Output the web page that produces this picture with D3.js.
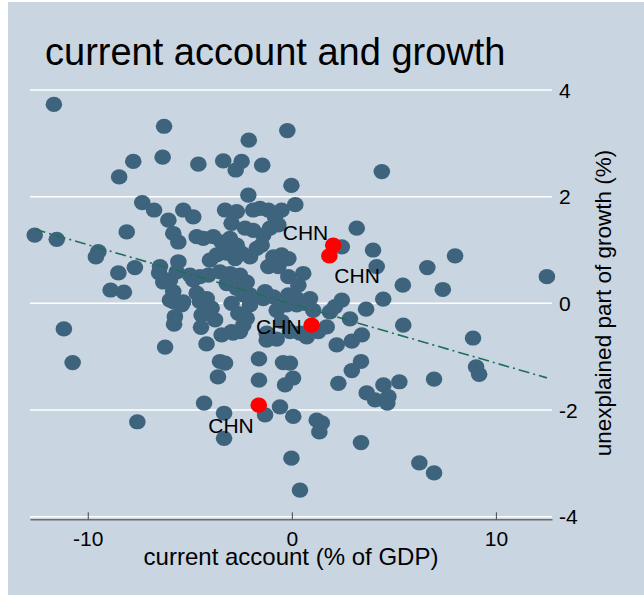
<!DOCTYPE html>
<html>
<head>
<meta charset="utf-8">
<script src="https://cdn.jsdelivr.net/npm/d3@7"></script>
<style>
  body { margin: 0; background: #fff; }
  text { font-family: "Liberation Sans", Arial, sans-serif; fill: #000; }
</style>
</head>
<body>
<div id="container"></div>
<script>
const w = 644;
const h = 595;

// current account (% of GDP) and unexplained growth, all countries
const ca = [-11.66, -6.26, -7.77, -8.46, -6.33, -4.58, -7.33, -6.75, -12.6, -11.52,
  -8.09, -9.48, -9.6, -8.5, -7.69, -8.88, -8.23, -6.46, -6.5, -6.05,
  -5.81, -5.32, -5.56, -4.83, -4.66, -5.56, -5.97, -5.81, -4.83, -4.66,
  -0.22, -2.11, -3.36, -2.46, -2.75, -1.45, -0.02, -2.13, 0.17, 3.18,
  2.45, 3.98, 0.56, -0.17, 4.41, 8.0, 6.64, 12.5, 4.16, 5.44,
  7.4, 4.48, 3.64, 2.45, 2.12, 1.87, 2.85, 5.46, 8.88, 3.43,
  2.94, 2.2, 0.24, 0.65, 0.4, 0.73, 1.3, 1.71, 3.39, 2.94,
  2.28, 3.67, 4.08, 4.49, 4.73, 4.68, 5.27, 6.97, 9.03, 9.18,
  0.07, 1.22, 1.47, 1.35, 3.39, -0.02, 0.4, 6.25, 6.97, -11.17,
  -10.74, -6.21, -5.77, -4.45, -4.18, -3.52, -3.62, -3.27, -3.44, -2.88,
  -1.61, -1.61, -1.23, -0.74, -0.43, -0.09, -0.33, 0.06, -4.3, -3.32,
  -3.32, -7.57, -1.31, -0.58, -5.81, -5.4, -5.73, -4.5, -4.42, -3.93,
  -3.76, -2.95, -2.62, -2.95, -2.38, -2.05, -2.21, -2.54, -1.4, -0.74,
  -0.25, -0.5, -1.23, -0.09, 1.05, -4.34, -3.27, -2.7, -2.95, -1.89,
  -1.56, -1.15, -0.5, -0.82, -2.29, -1.89, -1.4, -1.07, -0.66, -3.85,
  -3.44, -3.03, -2.7, -3.68, -4.01, -3.19, -2.78, -2.46, -2.05, -1.72,
  -1.48, -0.9, -0.5, -0.17, -0.66, -1.15, 0.32, -6.3, -5.64, -4.99,
  -4.5, -4.09, -3.52, -3.03, -2.54, -2.21, -3.19, -2.7, -2.38, -2.05,
  -1.31, -0.9, -0.17, 0.24, -4.17, -5.32, -5.97, 0.89];
const growth = [3.73, 3.32, 2.66, 2.37, 2.74, 2.61, 1.89, 1.75, 1.28, 1.2,
  1.34, 0.97, 0.87, 0.57, 0.67, 0.25, 0.21, 0.69, 0.57, 1.56,
  1.31, 1.75, 1.15, 1.62, 1.25, 0.78, 0.44, 0.22, 0.44, 0.19,
  3.24, 3.06, 2.67, 2.66, 2.5, 2.59, 2.21, 2.03, 1.85, 1.41,
  1.06, 1.0, 0.56, 0.5, 2.47, 0.89, 0.67, 0.5, 0.69, 0.34,
  0.26, 0.08, -0.11, 0.06, -0.06, -0.16, -0.29, -0.41, -0.65, -0.59,
  -0.71, -0.78, -0.03, 0.0, -0.56, -0.63, -0.53, -0.44, -1.09, -1.26,
  -1.5, -1.68, -1.81, -1.53, -1.75, -1.87, -1.47, -1.42, -1.19, -1.33,
  -2.12, -2.19, -2.24, -2.41, -2.61, -2.9, -3.5, -2.99, -3.18, -0.48,
  -1.11, -0.82, -0.39, -0.45, -0.76, -1.09, -1.38, -1.12, -0.59, -0.56,
  -1.04, -1.44, -0.69, -0.67, -1.11, -1.12, -1.53, -1.4, -1.87, -2.06,
  -2.53, -2.22, -2.09, -1.94, 0.03, -0.03, -0.25, 0.03, -0.22, -0.09,
  -0.31, 0.0, -0.19, -0.53, -0.41, -0.03, -0.28, -0.53, 0.09, -0.13,
  -0.03, -0.34, -0.56, -0.53, -0.13, 1.22, 1.75, 1.72, 1.5, 1.75,
  1.78, 1.75, 1.75, 1.62, 1.41, 1.37, 1.28, 1.41, 1.47, 1.25,
  1.15, 1.22, 1.09, 0.91, 0.81, 0.94, 0.84, 0.94, 0.87, 1.03,
  1.09, 0.87, 0.91, 0.84, 0.69, 0.69, 0.34, 0.4, 0.59, 0.53,
  0.5, 0.53, 0.59, 0.56, 0.53, 0.4, 0.37, 0.28, 0.16, 0.16,
  0.22, 0.12, 0.16, 0.09, 0.09, 0.03, 0.06, 0.09];

// China observations, labelled
const chnCa = [2.03, 1.84, 0.97, -1.62];
const chnGrowth = [1.09, 0.89, -0.41, -1.91];
const chnLabel = ['CHN', 'CHN', 'CHN', 'CHN'];
const chnClock = [11, 5, 9, 7];

// linear fit
const fitIntercept = -0.01;
const fitSlope = -0.111;

const xTicks = [-10, 0, 10];
const yTicks = [-4, -2, 0, 2, 4];

const bg = '#c9d5e0';
const dotColor = '#3e647d';

const svg = d3.select('#container')
  .append('svg')
  .attr('width', w)
  .attr('height', h);

svg.append('rect')
  .attr('x', 8).attr('y', 2)
  .attr('width', w - 8).attr('height', h - 2)
  .attr('fill', bg);

const x = d3.scaleLinear().domain([-12.83, 12.75]).range([30, 552]);
const y = d3.scaleLinear().domain([-4, 4]).range([516.7, 90]);

// grid
svg.append('g')
  .selectAll('line')
  .data(yTicks)
  .join('line')
    .attr('x1', 30).attr('x2', 552)
    .attr('y1', d => y(d)).attr('y2', d => y(d))
    .attr('stroke', 'white')
    .attr('stroke-width', 1.5);

// x axis
const xAxis = d3.axisBottom(x)
  .tickValues(xTicks)
  .tickFormat(d => String(d))
  .tickSizeInner(-7)
  .tickSizeOuter(0)
  .tickPadding(12);
const gx = svg.append('g')
  .attr('transform', 'translate(0,519.3)')
  .call(xAxis);
gx.select('.domain').attr('stroke', '#6e6e6e').attr('stroke-width', 1.6);
gx.selectAll('.tick line').attr('stroke', '#444').attr('stroke-width', 1);
gx.selectAll('.tick text')
  .attr('font-size', 21)
  .attr('font-family', '"Liberation Sans", Arial, sans-serif')
  .attr('fill', '#000');

// y axis labels on the right
svg.append('g')
  .selectAll('text')
  .data(yTicks)
  .join('text')
    .attr('x', 559)
    .attr('y', d => y(d))
    .attr('dy', '0.36em')
    .attr('font-size', 21)
    .text(d => String(d));

// markers
svg.append('g')
  .selectAll('ellipse')
  .data(ca.map((c, i) => [c, growth[i]]))
  .join('ellipse')
    .attr('cx', d => x(d[0]))
    .attr('cy', d => y(d[1]))
    .attr('rx', 8.3)
    .attr('ry', 7.6)
    .attr('fill', dotColor);

// fitted line
const xExt = d3.extent(ca.concat(chnCa));
svg.append('path')
  .datum(xExt)
  .attr('fill', 'none')
  .attr('stroke', '#1f6e5c')
  .attr('stroke-width', 1.6)
  .attr('stroke-dasharray', '11,4,2,4')
  .attr('d', d3.line().x(d => x(d)).y(d => y(fitIntercept + fitSlope * d)));

// China points
const chn = chnCa.map((c, i) => ({ca: c, g: chnGrowth[i], label: chnLabel[i], pos: chnClock[i]}));
svg.append('g')
  .selectAll('ellipse')
  .data(chn)
  .join('ellipse')
    .attr('cx', d => x(d.ca))
    .attr('cy', d => y(d.g))
    .attr('rx', 8.3)
    .attr('ry', 7.6)
    .attr('fill', '#ff0000');

svg.append('g')
  .selectAll('text')
  .data(chn)
  .join('text')
    .attr('font-size', 21)
    .attr('text-anchor', d => {
      const c = Math.cos((90 - d.pos * 30) * Math.PI / 180);
      return c < -0.1 ? 'end' : c > 0.1 ? 'start' : 'middle';
    })
    .attr('x', d => x(d.ca) + Math.cos((90 - d.pos * 30) * Math.PI / 180) * 10)
    .attr('y', d => {
      const s = Math.sin((90 - d.pos * 30) * Math.PI / 180);
      return y(d.g) + (s < 0 ? -s * 22 : -s * 16) + 1;
    })
    .attr('dy', '0.36em')
    .text(d => d.label);

// titles
svg.append('text')
  .attr('x', 45).attr('y', 65)
  .attr('font-size', 38)
  .text('current account and growth');

svg.append('text')
  .attr('x', 291).attr('y', 565)
  .attr('text-anchor', 'middle')
  .attr('font-size', 24)
  .text('current account (% of GDP)');

svg.append('text')
  .attr('transform', 'translate(611,303) rotate(-90)')
  .attr('text-anchor', 'middle')
  .attr('font-size', 22.5)
  .text('unexplained part of growth (%)');
</script>
</body>
</html>
